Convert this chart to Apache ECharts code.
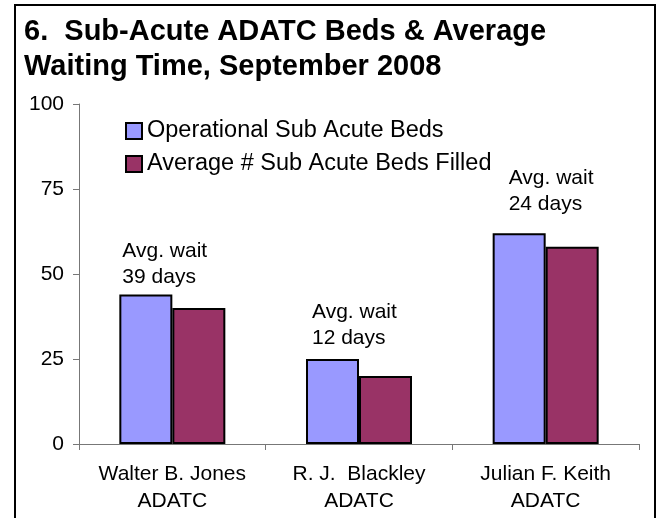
<!DOCTYPE html>
<html>
<head>
<meta charset="utf-8">
<script src="https://cdn.jsdelivr.net/npm/echarts@6/dist/echarts.min.js"></script>
<style>
  html, body { margin: 0; padding: 0; background: #fff; }
  #chart { width: 662px; height: 518px; }
</style>
</head>
<body>
<div id="chart"></div>
<script>
// data
var categories = ['Walter B. Jones\nADATC', 'R. J.  Blackley\nADATC', 'Julian F. Keith\nADATC'];
var operationalBeds = [44, 25, 62];
var bedsFilled = [40, 20, 58];
var avgWaitDays = [39, 12, 24];
var yMin = 0, yMax = 100, yStep = 25;
var seriesNames = ['Operational Sub Acute Beds', 'Average # Sub Acute Beds Filled'];

var FONT = '"Liberation Sans", Arial, sans-serif';
// where the wait note sits relative to each blue bar's top-left corner
var notePos = [[3, -4], [6, -8], [16, -16]];

var myChart = echarts.init(document.getElementById('chart'));

var blueData = operationalBeds.map(function (v, i) {
    return {
        value: v,
        label: {
            show: true,
            position: notePos[i],
            align: 'left',
            verticalAlign: 'bottom',
            formatter: 'Avg. wait\n' + avgWaitDays[i] + ' days'
        }
    };
});

var option = {
    animation: false,
    textStyle: { fontFamily: FONT },
    title: {
        text: '6.  Sub-Acute ADATC Beds & Average\nWaiting Time, September 2008',
        left: 19,
        top: 9,
        textStyle: {
            fontFamily: FONT,
            fontWeight: 'bold',
            fontSize: 29,
            lineHeight: 35,
            color: '#000'
        }
    },
    legend: {
        orient: 'vertical',
        left: 125,
        top: 119,
        itemWidth: 16,
        itemHeight: 16,
        itemGap: 9,
        icon: 'rect',
        padding: 0,
        data: seriesNames,
        textStyle: { fontFamily: FONT, fontSize: 23.5, color: '#000' },
        itemStyle: { borderColor: '#000', borderWidth: 2 }
    },
    grid: {
        left: 79,
        right: 23,
        top: 104,
        bottom: 74,
        containLabel: false
    },
    xAxis: {
        type: 'category',
        data: categories,
        axisLine: { lineStyle: { color: '#777', width: 1 } },
        axisTick: { show: true, alignWithLabel: false, length: 6, inside: false, lineStyle: { color: '#777' } },
        axisLabel: {
            interval: 0,
            color: '#000',
            fontFamily: FONT,
            fontSize: 21,
            lineHeight: 27,
            margin: 17
        }
    },
    yAxis: {
        type: 'value',
        min: yMin,
        max: yMax,
        interval: yStep,
        splitLine: { show: false },
        axisLine: { show: true, lineStyle: { color: '#777', width: 1 } },
        axisTick: { show: true, length: 6, lineStyle: { color: '#777' } },
        axisLabel: { color: '#000', fontFamily: FONT, fontSize: 21, margin: 15 }
    },
    series: [
        {
            name: seriesNames[0],
            type: 'bar',
            data: blueData,
            barWidth: 53,
            barGap: '0%',
            itemStyle: { color: '#9999FF', borderColor: '#000', borderWidth: 2 },
            label: { color: '#000', fontFamily: FONT, fontSize: 21, lineHeight: 26 }
        },
        {
            name: seriesNames[1],
            type: 'bar',
            data: bedsFilled,
            barWidth: 53,
            barGap: '0%',
            itemStyle: { color: '#993366', borderColor: '#000', borderWidth: 2 }
        }
    ],
    graphic: [
        {
            type: 'rect',
            shape: { x: 15, y: 5, width: 640, height: 540 },
            style: { fill: null, stroke: '#000', lineWidth: 2 },
            silent: true
        }
    ]
};

myChart.setOption(option);
window.addEventListener('resize', function () {
    myChart.resize();
});
</script>
</body>
</html>
